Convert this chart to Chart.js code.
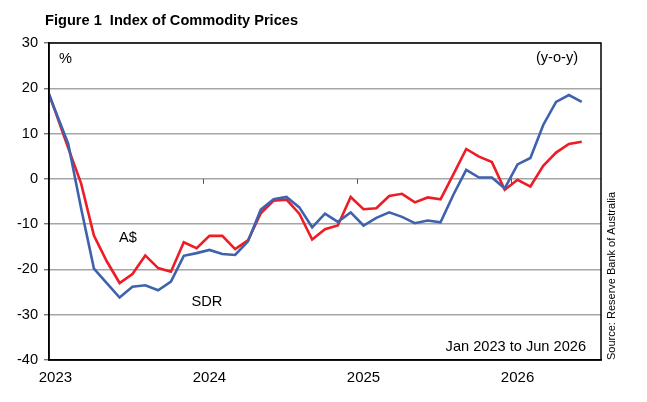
<!DOCTYPE html>
<html>
<head>
<meta charset="utf-8">
<script src="https://cdn.jsdelivr.net/npm/chart.js@4"></script>
<style>
html,body{margin:0;padding:0;background:#fff;}
#wrap{position:relative;width:647px;height:402px;}
canvas{display:block;}
</style>
</head>
<body>
<div id="wrap"><canvas id="c" width="647" height="402"></canvas></div>
<script>
// Month index: 0 = Jan 2023; first value is Dec 2022 (index -1), clipped at the axis
const firstMonthIndex = -1;
const audValues = [22.6, 14.8, 6.8, -1.0, -12.5, -18.2, -23.0, -21.0, -16.9, -19.7, -20.5, -14.0,
  -15.3, -12.6, -12.6, -15.5, -13.6, -7.6, -4.8, -4.6, -7.7, -13.4, -11.1, -10.3,
  -4.0, -6.7, -6.5, -3.8, -3.3, -5.2, -4.1, -4.5, 1.0, 6.6, 4.9, 3.7,
  -2.4, -0.2, -1.7, 2.9, 5.8, 7.7, 8.2];
const sdrValues = [22.3, 15.0, 7.7, -6.5, -19.8, -23.0, -26.2, -23.8, -23.5, -24.6, -22.7, -17.0,
  -16.4, -15.7, -16.6, -16.8, -13.8, -6.8, -4.5, -4.0, -6.3, -10.7, -7.7, -9.5,
  -7.4, -10.3, -8.6, -7.4, -8.4, -9.8, -9.2, -9.6, -3.5, 2.0, 0.3, 0.3,
  -2.1, 3.2, 4.6, 11.9, 17.0, 18.5, 17.0];
const yearTickValues = [0, 12, 24, 36];
const yearTickLabels = ['2023', '2024', '2025', '2026'];
const yearBoundaries = [11.5, 23.5, 35.5];
const yTicks = [30, 20, 10, 0, -10, -20, -30, -40];

const toPoints = arr => arr.map((v, k) => ({x: firstMonthIndex + k, y: v}));

const FONT = "'Liberation Sans', Arial, sans-serif";

const decor = {
  id: 'decor',
  afterDatasetsDraw(chart) {
    const {ctx, chartArea: a, scales: {x, y}} = chart;
    ctx.save();
    // year boundary ticks on zero line
    ctx.strokeStyle = '#555';
    ctx.lineWidth = 1;
    const y0 = y.getPixelForValue(0);
    yearBoundaries.forEach(b => {
      const px = Math.round(x.getPixelForValue(b)) + 0.5;
      ctx.beginPath(); ctx.moveTo(px, y0); ctx.lineTo(px, y0 + 5); ctx.stroke();
    });
    // frame
    ctx.strokeStyle = '#000';
    ctx.lineWidth = 1.5;
    ctx.strokeRect(a.left, a.top, a.right - a.left, a.bottom - a.top);
    ctx.restore();
  },
  afterDraw(chart) {
    const {ctx} = chart;
    ctx.save();
    ctx.fillStyle = '#000';
    ctx.textBaseline = 'middle';
    ctx.font = "bold 14.6px " + FONT;
    ctx.textAlign = 'left';
    ctx.fillText('Figure 1  Index of Commodity Prices', 45, 21);
    ctx.font = "14.6px " + FONT;
    ctx.fillText('%', 59, 59);
    ctx.textAlign = 'center';
    ctx.fillText('(y-o-y)', 557, 58);
    ctx.fillText('A$', 128, 238);
    ctx.fillText('SDR', 207, 302);
    ctx.textAlign = 'right';
    ctx.fillText('Jan 2023 to Jun 2026', 586, 347);
    // source
    ctx.translate(612, 360);
    ctx.rotate(-Math.PI / 2);
    ctx.textAlign = 'left';
    ctx.font = "11px " + FONT;
    ctx.fillText('Source: Reserve Bank of Australia', 0, 0);
    ctx.restore();
  }
};

new Chart(document.getElementById('c'), {
  type: 'line',
  data: {
    datasets: [
      {label: 'SDR', data: toPoints(sdrValues), borderColor: '#3f62ad', borderWidth: 2.6,
       pointRadius: 0, tension: 0, fill: false},
      {label: 'A$', data: toPoints(audValues), borderColor: '#ee1c25', borderWidth: 2.6,
       pointRadius: 0, tension: 0, fill: false}
    ]
  },
  options: {
    responsive: false,
    animation: false,
    devicePixelRatio: 1,
    layout: {padding: {top: 43, right: 46, left: 0, bottom: 0}},
    plugins: {legend: {display: false}, tooltip: {enabled: false}, title: {display: false}},
    scales: {
      x: {
        type: 'linear', min: -0.5, max: 42.5,
        afterBuildTicks: s => { s.ticks = yearTickValues.map(v => ({value: v})); },
        afterFit: s => { s.height = 42; },
        grid: {display: false, drawTicks: false},
        border: {display: true, color: '#000', width: 1.5},
        ticks: {
          autoSkip: false, maxRotation: 0, padding: 9, color: '#000',
          font: {family: FONT, size: 15},
          callback: v => { const k = yearTickValues.indexOf(v); return k >= 0 ? yearTickLabels[k] : ''; }
        }
      },
      y: {
        min: -40, max: 30,
        afterBuildTicks: s => { s.ticks = yTicks.map(v => ({value: v})); },
        afterFit: s => { s.width = 49; },
        grid: {color: '#a6a6a6', lineWidth: 1.4, tickLength: 5, tickColor: '#777'},
        border: {display: true, color: '#000', width: 1.5},
        ticks: {padding: 6, color: '#000', font: {family: FONT, size: 14.6}}
      }
    }
  },
  plugins: [decor]
});
</script>
</body>
</html>
